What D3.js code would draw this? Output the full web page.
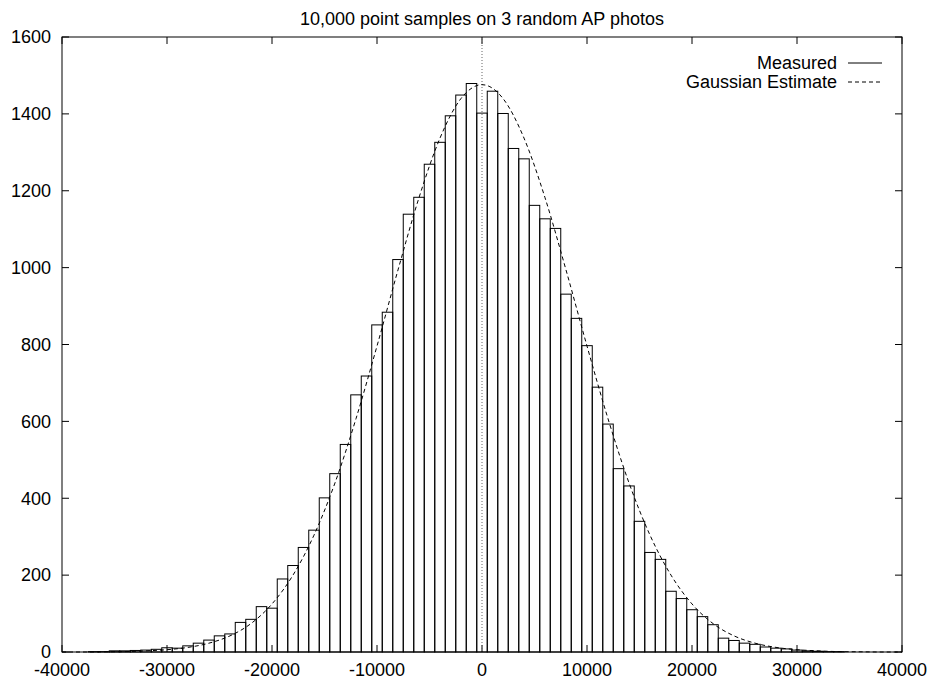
<!DOCTYPE html>
<html>
<head>
<meta charset="utf-8">
<script src="https://cdn.jsdelivr.net/npm/d3@7"></script>
<style>
  body { margin: 0; background: #fff; }
  svg { display: block; font-family: "Liberation Sans", Arial, Helvetica, sans-serif; }
  .frame { fill: none; stroke: #000; stroke-width: 1; }
  .bar { fill: none; stroke: #000; stroke-width: 1; }
  .gauss { fill: none; stroke: #000; stroke-width: 1; stroke-dasharray: 4,3; }
  .zero { stroke: #666; stroke-width: 1; stroke-dasharray: 1,2; }
  .tick { stroke: #000; stroke-width: 1; }
  text { font-size: 18px; fill: #000; }
</style>
</head>
<body>
<svg width="929" height="680"></svg>
<script>
var title = "10,000 point samples on 3 random AP photos";

// histogram bins (centre of each 1000-wide bin) and counts
var binCenters = [-37000, -36000, -35000, -34000, -33000, -32000, -31000, -30000, -29000, -28000,
  -27000, -26000, -25000, -24000, -23000, -22000, -21000, -20000, -19000, -18000,
  -17000, -16000, -15000, -14000, -13000, -12000, -11000, -10000, -9000, -8000,
  -7000, -6000, -5000, -4000, -3000, -2000, -1000, 0, 1000, 2000,
  3000, 4000, 5000, 6000, 7000, 8000, 9000, 10000, 11000, 12000,
  13000, 14000, 15000, 16000, 17000, 18000, 19000, 20000, 21000, 22000,
  23000, 24000, 25000, 26000, 27000, 28000, 29000, 30000, 31000, 32000,
  33000, 34000];
var counts = [1, 1, 3, 3, 4, 5, 7, 11, 10, 16,
  23, 31, 42, 47, 77, 85, 118, 114, 190, 225,
  272, 317, 401, 464, 540, 669, 718, 851, 884, 1021,
  1139, 1183, 1269, 1326, 1395, 1449, 1479, 1402, 1459, 1401,
  1310, 1283, 1162, 1127, 1102, 931, 868, 797, 689, 593,
  477, 432, 340, 259, 241, 158, 139, 110, 92, 71,
  36, 30, 23, 20, 13, 10, 8, 5, 3, 2,
  1, 1];
var binWidth = 1000;

// gaussian estimate
var gaussX = [-40000, -38000, -36000, -34000, -32000, -30000, -28000, -26000, -24000, -22000,
  -20000, -18000, -16000, -14000, -12000, -10000, -8000, -6000, -4000, -2000,
  0, 2000, 4000, 6000, 8000, 10000, 12000, 14000, 16000, 18000,
  20000, 22000, 24000, 26000, 28000, 30000, 32000, 34000, 36000, 38000, 40000];
var gaussY = [0, 0, 0.5, 1, 3, 6, 12, 23, 42, 74,
  125, 200, 304, 440, 607, 796, 994, 1182, 1337, 1440,
  1476, 1440, 1337, 1182, 994, 796, 607, 440, 304, 200,
  125, 74, 42, 23, 12, 6, 3, 1, 0.5, 0, 0];

var xTicks = [-40000, -30000, -20000, -10000, 0, 10000, 20000, 30000, 40000];
var yTicks = [0, 200, 400, 600, 800, 1000, 1200, 1400, 1600];

var legendLabels = ["Measured", "Gaussian Estimate"];

var svg = d3.select("svg");

var plotLeft = 62, plotRight = 902, plotTop = 37, plotBottom = 652,
    tickLen = 7;

var x = d3.scaleLinear().domain([-40000, 40000]).range([plotLeft, plotRight]);
var y = d3.scaleLinear().domain([0, 1600]).range([plotBottom, plotTop]);

svg.append("text")
    .attr("x", (plotLeft + plotRight) / 2)
    .attr("y", 25)
    .attr("text-anchor", "middle")
    .text(title);

// mirrored inward ticks, gnuplot style
var ticks = svg.append("g");
xTicks.forEach(function(t) {
  ticks.append("line").attr("class", "tick")
      .attr("x1", x(t)).attr("x2", x(t)).attr("y1", plotBottom).attr("y2", plotBottom - tickLen);
  ticks.append("line").attr("class", "tick")
      .attr("x1", x(t)).attr("x2", x(t)).attr("y1", plotTop).attr("y2", plotTop + tickLen);
  ticks.append("text")
      .attr("x", x(t))
      .attr("y", 676)
      .attr("text-anchor", "middle")
      .text(t);
});
yTicks.forEach(function(t) {
  ticks.append("line").attr("class", "tick")
      .attr("x1", plotLeft).attr("x2", plotLeft + tickLen).attr("y1", y(t)).attr("y2", y(t));
  ticks.append("line").attr("class", "tick")
      .attr("x1", plotRight).attr("x2", plotRight - tickLen).attr("y1", y(t)).attr("y2", y(t));
  ticks.append("text")
      .attr("x", 51)
      .attr("y", y(t))
      .attr("dy", "0.35em")
      .attr("text-anchor", "end")
      .text(t);
});

svg.append("line")
    .attr("class", "zero")
    .attr("x1", x(0)).attr("x2", x(0))
    .attr("y1", plotBottom).attr("y2", plotTop);

svg.append("g")
  .selectAll("rect")
    .data(binCenters)
  .enter().append("rect")
    .attr("class", "bar")
    .attr("x", function(d) { return x(d - binWidth / 2); })
    .attr("width", function(d) { return x(d + binWidth / 2) - x(d - binWidth / 2); })
    .attr("y", function(d, i) { return y(counts[i]); })
    .attr("height", function(d, i) { return y(0) - y(counts[i]); });

var line = d3.line()
    .x(function(d, i) { return x(gaussX[i]); })
    .y(function(d) { return y(d); })
    .curve(d3.curveMonotoneX);

svg.append("path")
    .attr("class", "gauss")
    .attr("d", line(gaussY));

svg.append("rect")
    .attr("class", "frame")
    .attr("x", plotLeft).attr("y", plotTop)
    .attr("width", plotRight - plotLeft).attr("height", plotBottom - plotTop);

var legend = svg.append("g");
legendLabels.forEach(function(l, i) {
  var ly = 63 + i * 19;
  legend.append("text")
      .attr("x", 837)
      .attr("y", ly)
      .attr("dy", "0.35em")
      .attr("text-anchor", "end")
      .text(l);
  legend.append("line")
      .attr("class", i ? "gauss" : "bar")
      .attr("x1", 848).attr("x2", 882)
      .attr("y1", ly).attr("y2", ly);
});
</script>
</body>
</html>
